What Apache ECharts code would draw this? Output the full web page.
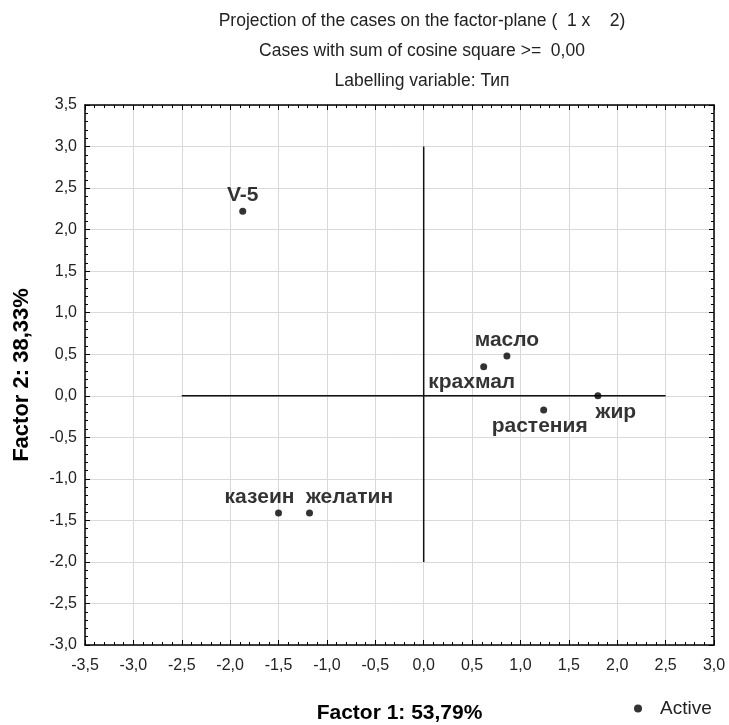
<!DOCTYPE html>
<html>
<head>
<meta charset="utf-8">
<script src="https://cdn.jsdelivr.net/npm/echarts@6/dist/echarts.min.js"></script>
<style>
html,body{margin:0;padding:0;background:#fff;}
#chart{width:729px;height:725px;}
</style>
</head>
<body>
<div id="chart"></div>
<script>
// ---- data ----
const caseNames = ['V-5', 'масло', 'крахмал', 'растения', 'жир', 'казеин', 'желатин'];
const factor1 = [-1.87, 0.86, 0.62, 1.24, 1.80, -1.50, -1.18];
const factor2 = [2.22, 0.48, 0.35, -0.17, 0.00, -1.41, -1.41];
const crossHorizontal = [[-2.5, 0], [2.5, 0]];
const crossVertical = [[0, -2.0], [0, 3.0]];
const titleLines = [
  'Projection of the cases on the factor-plane (  1 x    2)',
  'Cases with sum of cosine square >=  0,00',
  'Labelling variable: Тип'
];
const xAxisName = 'Factor 1: 53,79%';
const yAxisName = 'Factor 2: 38,33%';
const legendName = 'Active';

// ---- label placement (style, not data) ----
const labelPlacement = {
  'V-5':      {position: 'top',    offset: [0, 0]},
  'масло':    {position: 'top',    offset: [0, 0]},
  'крахмал':  {position: 'bottom', offset: [-12, 0]},
  'растения': {position: 'bottom', offset: [-4, 0]},
  'жир':      {position: 'bottom', offset: [18, 0]},
  'казеин':   {position: 'top',    offset: [-19, 0]},
  'желатин':  {position: 'top',    offset: [40, 0]}
};

const FONT = '"Liberation Sans", Arial, sans-serif';
const fmt = v => v.toFixed(1).replace('.', ',');

const points = caseNames.map((n, i) => ({
  name: n,
  value: [factor1[i], factor2[i]],
  label: {
    show: true,
    formatter: n,
    position: labelPlacement[n].position,
    offset: labelPlacement[n].offset,
    distance: 2,
    fontFamily: FONT,
    fontWeight: 'bold',
    fontSize: 21,
    color: '#000'
  }
}));

const baseAxis = {
  interval: 0.5,
  axisLine: {show: true, onZero: false, lineStyle: {color: '#000', width: 1.5}},
  axisTick: {show: true, inside: true, length: 5, lineStyle: {color: '#000'}},
  minorTick: {show: true, splitNumber: 5, length: 3, lineStyle: {color: '#000'}},
};

const chart = echarts.init(document.getElementById('chart'), null, {renderer: 'canvas'});
chart.setOption({
  animation: false,
  backgroundColor: '#fff',
  title: titleLines.map((t, i) => ({
    text: t,
    left: 417,
    top: 7 + i * 30,
    textAlign: 'center',
    textStyle: {fontFamily: FONT, fontWeight: 'normal', fontSize: 17.5, color: '#222'}
  })),
  legend: {
    data: [legendName],
    left: 634,
    top: 699,
    padding: 0,
    icon: 'circle',
    itemWidth: 8,
    itemHeight: 8,
    textStyle: {fontFamily: FONT, fontSize: 19, color: '#222', padding: [0, 0, 0, 13]}
  },
  grid: {left: 85, top: 105, width: 629, height: 540, containLabel: false, outerBoundsMode: 'none'},
  xAxis: [
    Object.assign({}, baseAxis, {
      type: 'value', min: -3.5, max: 3.0, position: 'bottom',
      name: xAxisName, nameLocation: 'middle', nameGap: 58,
      nameTextStyle: {fontFamily: FONT, fontWeight: 'bold', fontSize: 21, color: '#000'},
      axisLabel: {formatter: fmt, fontFamily: FONT, fontSize: 16, color: '#222', margin: 13},
      splitLine: {show: true, lineStyle: {color: '#d9d9d9', width: 1}}
    }),
    Object.assign({}, baseAxis, {
      type: 'value', min: -3.5, max: 3.0, position: 'top',
      axisLabel: {show: false}, splitLine: {show: false}
    })
  ],
  yAxis: [
    Object.assign({}, baseAxis, {
      type: 'value', min: -3.0, max: 3.5, position: 'left',
      name: yAxisName, nameLocation: 'middle', nameGap: 52,
      nameTextStyle: {fontFamily: FONT, fontWeight: 'bold', fontSize: 22, color: '#000'},
      axisLabel: {formatter: fmt, fontFamily: FONT, fontSize: 16, color: '#222', margin: 8},
      splitLine: {show: true, lineStyle: {color: '#d9d9d9', width: 1}}
    }),
    Object.assign({}, baseAxis, {
      type: 'value', min: -3.0, max: 3.5, position: 'right',
      axisLabel: {show: false}, splitLine: {show: false}
    })
  ],
  series: [
    {
      name: 'crossH', type: 'line', data: crossHorizontal, symbol: 'none',
      lineStyle: {color: '#111', width: 1.5}, silent: true, z: 3
    },
    {
      name: 'crossV', type: 'line', data: crossVertical, symbol: 'none',
      lineStyle: {color: '#111', width: 1.5}, silent: true, z: 3
    },
    {
      name: legendName, type: 'scatter', data: points,
      symbol: 'circle', symbolSize: 7,
      itemStyle: {color: '#000'}, z: 5
    }
  ]
});
</script>
</body>
</html>
